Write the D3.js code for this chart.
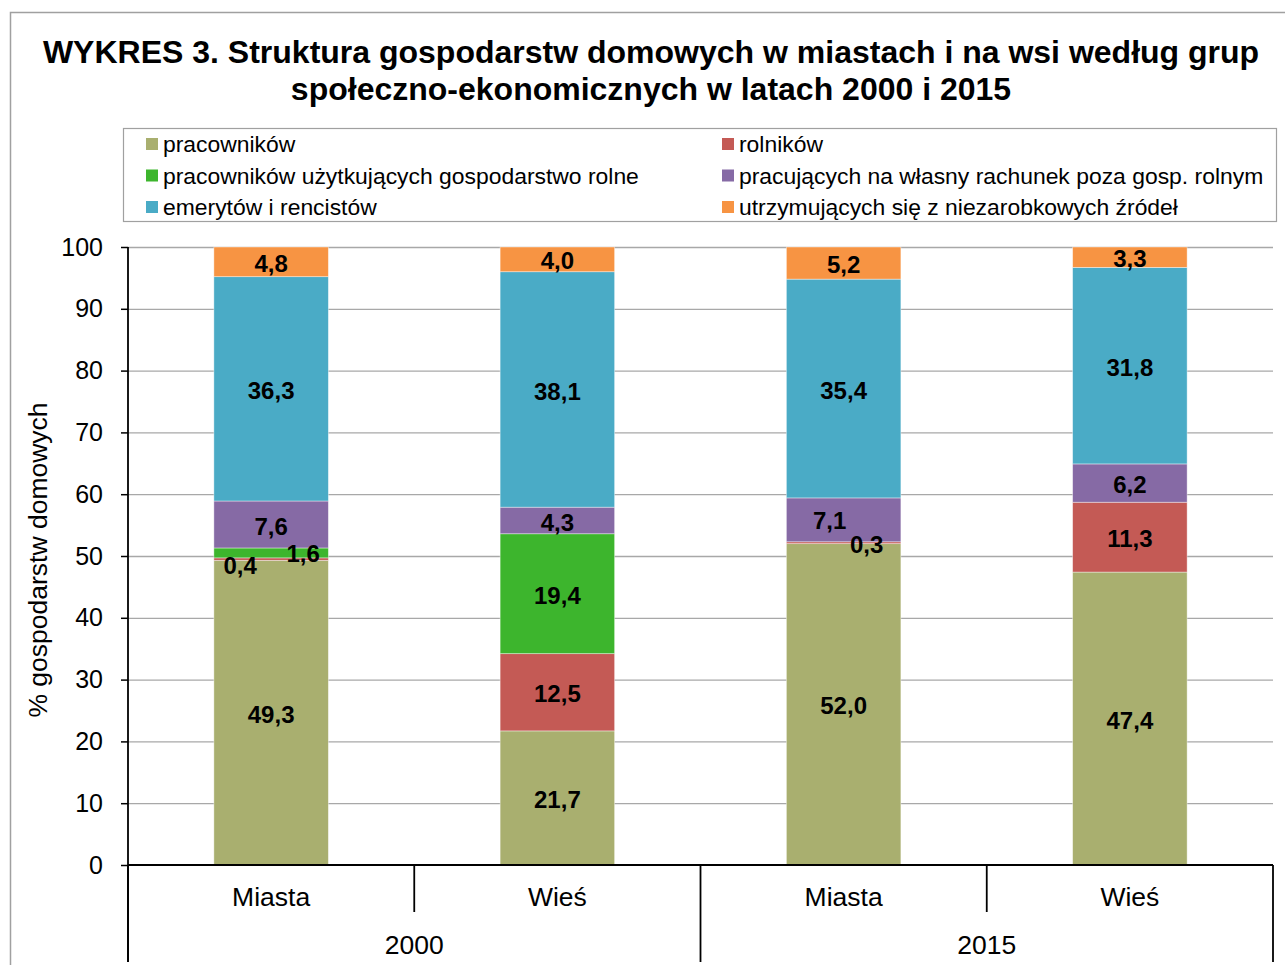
<!DOCTYPE html>
<html>
<head>
<meta charset="utf-8">
<script src="https://cdn.jsdelivr.net/npm/d3@7"></script>
<style>
  body { margin: 0; background: #fff; }
  svg { font-family: "Liberation Sans", Arial, sans-serif; }
</style>
</head>
<body>
<div id="chart"></div>
<script>
const years = ['2000', '2015'];
const areas = ['Miasta', 'Wieś'];
const seriesNames = [
  'pracowników',
  'rolników',
  'pracowników użytkujących gospodarstwo rolne',
  'pracujących na własny rachunek poza gosp. rolnym',
  'emerytów i rencistów',
  'utrzymujących się z niezarobkowych źródeł'
];
// values per category: Miasta 2000, Wieś 2000, Miasta 2015, Wieś 2015
const pracownikow = [49.3, 21.7, 52.0, 47.4];
const rolnikow = [0.4, 12.5, 0.3, 11.3];
const uzytkujacych = [1.6, 19.4, 0, 0];
const naWlasny = [7.6, 4.3, 7.1, 6.2];
const emerytow = [36.3, 38.1, 35.4, 31.8];
const niezarobkowych = [4.8, 4.0, 5.2, 3.3];
const yTicks = [0, 10, 20, 30, 40, 50, 60, 70, 80, 90, 100];

const colors = ['#a9af6f', '#c45a55', '#3db52d', '#866aa5', '#4aabc6', '#f79443'];
const seriesValues = [pracownikow, rolnikow, uzytkujacych, naWlasny, emerytow, niezarobkowych];

const categories = [];
years.forEach(yr => areas.forEach(a => categories.push({ key: yr + '|' + a, year: yr, area: a })));
const rows = categories.map((c, i) => {
  const r = { key: c.key };
  seriesNames.forEach((s, j) => { r[s] = seriesValues[j][i]; });
  return r;
});

// manual nudges for the crowded labels (dx, dy in px)
const nudges = {
  '2000|Miasta|1': [-31, 5],
  '2000|Miasta|2': [32, -1],
  '2015|Miasta|3': [-14, -1],
  '2015|Miasta|1': [23, 0]
};

const W = 1285, H = 965;
const svg = d3.select('#chart').append('svg').attr('width', W).attr('height', H);

// outer frame
svg.append('rect')
  .attr('x', 10.5).attr('y', 12.5).attr('width', 1290).attr('height', 1000)
  .attr('fill', 'none').attr('stroke', '#a0a0a0').attr('stroke-width', 1.5);

// title
svg.append('text')
  .attr('x', 651).attr('y', 63)
  .attr('text-anchor', 'middle').attr('font-weight', 'bold').attr('font-size', 32)
  .text('WYKRES 3. Struktura gospodarstw domowych w miastach i na wsi według grup');
svg.append('text')
  .attr('x', 651).attr('y', 100)
  .attr('text-anchor', 'middle').attr('font-weight', 'bold').attr('font-size', 32)
  .text('społeczno-ekonomicznych w latach 2000 i 2015');

// legend
const legend = svg.append('g');
legend.append('rect')
  .attr('x', 123.5).attr('y', 128.5).attr('width', 1153).attr('height', 93)
  .attr('fill', '#fff').attr('stroke', '#a0a0a0').attr('stroke-width', 1.2);
const legendOrder = [0, 2, 4, 1, 3, 5];
legendOrder.forEach((si, k) => {
  const col = Math.floor(k / 3), row = k % 3;
  const lx = col === 0 ? 146 : 722;
  const ly = 144 + row * 31.5;
  const g = legend.append('g').attr('transform', `translate(${lx},${ly})`);
  g.append('rect').attr('x', 0).attr('y', -6).attr('width', 12).attr('height', 12).attr('fill', colors[si]);
  g.append('text').attr('x', 17).attr('y', 8).attr('font-size', 22.9).text(seriesNames[si]);
});

// scales
const plotLeft = 128, plotRight = 1273, plotTop = 247, plotBottom = 865;
const x = d3.scaleBand().domain(categories.map(c => c.key)).range([plotLeft, plotRight])
  .paddingInner(0.6).paddingOuter(0.3);
const y = d3.scaleLinear().domain([0, 100]).range([plotBottom, plotTop]);

// gridlines
svg.append('g').selectAll('line').data(yTicks.filter(t => t > 0)).join('line')
  .attr('x1', plotLeft).attr('x2', plotRight)
  .attr('y1', d => y(d) + 0.5).attr('y2', d => y(d) + 0.5)
  .attr('stroke', '#a8a8a8').attr('stroke-width', 1.3);

// stacked bars
const stack = d3.stack().keys(seriesNames);
const layers = stack(rows);
const barG = svg.append('g');
layers.forEach((layer, si) => {
  barG.append('g').selectAll('rect').data(layer).join('rect')
    .attr('x', d => x(d.data.key))
    .attr('width', x.bandwidth())
    .attr('y', d => y(d[1]))
    .attr('height', d => y(d[0]) - y(d[1]))
    .attr('fill', colors[si])
    .attr('stroke', 'rgba(255,255,255,0.5)').attr('stroke-width', 0.8);
});

// value labels
const labelG = svg.append('g');
layers.forEach((layer, si) => {
  layer.forEach(d => {
    const v = d[1] - d[0];
    if (!v) return;
    const nd = nudges[d.data.key + '|' + si] || [0, 0];
    labelG.append('text')
      .attr('x', x(d.data.key) + x.bandwidth() / 2 + nd[0])
      .attr('y', y((d[0] + d[1]) / 2) + nd[1])
      .attr('dy', '0.42em')
      .attr('text-anchor', 'middle').attr('font-weight', 'bold').attr('font-size', 24)
      .text(d3.format('.1f')(v).replace('.', ','));
  });
});

// y axis
const yAxis = svg.append('g').attr('transform', `translate(${plotLeft},0)`)
  .call(d3.axisLeft(y).tickValues(yTicks).tickSize(7).tickPadding(18));
yAxis.select('.domain').remove();
yAxis.selectAll('.tick line').attr('stroke', '#000').attr('stroke-width', 1.5);
yAxis.selectAll('.tick text').attr('font-size', 25).attr('font-family', '"Liberation Sans", Arial, sans-serif').attr('fill', '#000');

// y axis title
svg.append('text')
  .attr('transform', 'translate(47,560) rotate(-90)')
  .attr('text-anchor', 'middle').attr('font-size', 26.5)
  .text('% gospodarstw domowych');

// axis lines
svg.append('line').attr('x1', plotLeft).attr('x2', plotLeft).attr('y1', plotTop).attr('y2', 962)
  .attr('stroke', '#000').attr('stroke-width', 1.8);
svg.append('line').attr('x1', plotLeft).attr('x2', plotRight).attr('y1', plotBottom).attr('y2', plotBottom)
  .attr('stroke', '#000').attr('stroke-width', 1.8);

// category separators
const step = x.step();
const seps = d3.range(categories.length + 1);
svg.append('g').selectAll('line').data(seps).join('line')
  .attr('x1', i => plotLeft + i * step).attr('x2', i => plotLeft + i * step)
  .attr('y1', plotBottom).attr('y2', i => i % areas.length === 0 ? 962 : 912)
  .attr('stroke', '#000').attr('stroke-width', 1.8);

// category labels
svg.append('g').selectAll('text').data(categories).join('text')
  .attr('x', c => x(c.key) + x.bandwidth() / 2).attr('y', 906)
  .attr('text-anchor', 'middle').attr('font-size', 26.5)
  .text(c => c.area);
svg.append('g').selectAll('text').data(years).join('text')
  .attr('x', (yr, i) => plotLeft + (i * areas.length + areas.length / 2) * step).attr('y', 954)
  .attr('text-anchor', 'middle').attr('font-size', 26.5)
  .text(yr => yr);
</script>
</body>
</html>
